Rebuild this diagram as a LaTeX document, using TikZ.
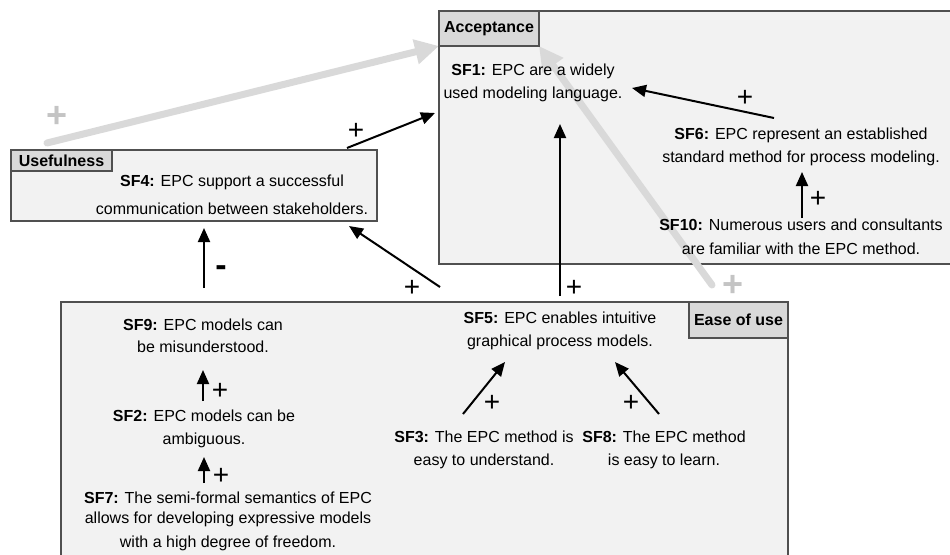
\documentclass[tikz,border=0pt]{standalone}
\usepackage{fontspec}
\setmainfont{Liberation Sans}
\usetikzlibrary{arrows.meta}
\pgfdeclarelayer{bg}
\pgfdeclarelayer{mid}
\pgfsetlayers{bg,mid,main}
\definecolor{boxfill}{HTML}{F2F2F2}
\definecolor{labfill}{HTML}{D9D9D9}
\definecolor{bordercol}{HTML}{505050}
\definecolor{greyarr}{HTML}{D9D9D9}
\definecolor{greyplus}{HTML}{C4C4C4}
\begin{document}
\begin{tikzpicture}[x=1pt,y=-1pt,
  area/.style={draw=bordercol, fill=boxfill, line width=1.2pt, anchor=north west, inner sep=0pt, outer sep=0pt},
  tag/.style={draw=bordercol, fill=labfill, line width=1.2pt, anchor=north west, inner sep=0pt, outer sep=0pt, font=\fontsize{16}{19}\selectfont\bfseries},
  txt/.style={align=center, inner sep=0pt, font=\fontsize{16}{22.5}\selectfont},
  arr/.style={line width=2pt, -{Triangle[length=14pt,width=12pt]}},
  garr/.style={line width=7pt, draw=greyarr, line cap=round, -{Triangle[length=24pt,width=24pt]}},
  plus/.style={inner sep=0pt, font=\fontsize{28}{28}\selectfont},
  minus/.style={inner sep=0pt, font=\fontsize{34}{34}\selectfont\bfseries},
  gplus/.style={inner sep=0pt, text=greyplus, font=\fontsize{36}{36}\selectfont\bfseries}]
\useasboundingbox (0,0) rectangle (950,554);
\begin{pgfonlayer}{bg}
\clip (0,0) rectangle (950,554);
\node[area, minimum width=530pt, minimum height=253pt] (acc) at (439,11) {};
\node[area, minimum width=366pt, minimum height=71pt] (use) at (11,150) {};
\node[area, minimum width=727pt, minimum height=270pt] (bot) at (61,302) {};
\end{pgfonlayer}
% labels
\node[tag, minimum width=100pt, minimum height=35pt] (acclab) at (439,11) {Acceptance};
\node[tag, minimum width=101pt, minimum height=21pt] (uselab) at (11,150) {Usefulness};
\node[tag, minimum width=99pt, minimum height=36pt] (easelab) at (689,302) {Ease of use};
% texts
\node[txt] (sf1) at (533,83) {\textbf{SF1:} EPC are a widely\\used modeling language.};
\node[txt] (sf6) at (801,147) {\textbf{SF6:} EPC represent an established\\standard method for process modeling.};
\node[txt] (sf10) at (801,237) {\textbf{SF10:} Numerous users and consultants\\[1.5pt]are familiar with the EPC method.};
\node[txt] (sf4) at (232,195) {\textbf{SF4:} EPC support a successful\\[5.5pt]communication between stakeholders.};
\node[txt] (sf9) at (203,336) {\textbf{SF9:} EPC models can\\be misunderstood.};
\node[txt] (sf2) at (204,429) {\textbf{SF2:} EPC models can be\\ambiguous.};
\node[txt] (sf7) at (228,521) {\textbf{SF7:} The semi-formal semantics of EPC\\[-2.5pt]allows for developing expressive models\\[1.5pt]with a high degree of freedom.};
\node[txt] (sf5) at (560,331) {\textbf{SF5:} EPC enables intuitive\\graphical process models.};
\node[txt] (sf3) at (484,450) {\textbf{SF3:} The EPC method is\\easy to understand.};
\node[txt] (sf8) at (664,450) {\textbf{SF8:} The EPC method\\is easy to learn.};
% grey arrows
\begin{pgfonlayer}{mid}
\draw[garr] ([shift={(36,-7)}]use.north west) -- (acclab.south west);
\draw[garr] ([shift={(23,-17)}]easelab.north west) -- (acclab.south east);
\end{pgfonlayer}
% black arrows
\draw[arr] ([shift={(-30,-2)}]use.north east) -- ([shift={(-4,102)}]acc.north west);
\draw[arr] ([shift={(-120,-44)}]sf5.center) -- ([shift={(-28,5)}]use.south east);
\draw[arr] ([shift={(1,-48)}]sf9.center) -- ([shift={(10,7)}]use.south);
\draw[arr] ([shift={(0,-35)}]sf5.center) -- ([shift={(27,41)}]sf1.center);
\draw[arr] ([shift={(-27,-29)}]sf6.center) -- ([shift={(99,5)}]sf1.center);
\draw[arr] ([shift={(1,-19)}]sf10.center) -- ([shift={(1,25)}]sf6.center);
\draw[arr] ([shift={(-1,-28)}]sf2.center) -- ([shift={(0,34)}]sf9.center);
\draw[arr] ([shift={(-24,-38)}]sf7.center) -- ([shift={(0,28)}]sf2.center);
\draw[arr] ([shift={(-21,-36)}]sf3.center) -- ([shift={(-55,31)}]sf5.center);
\draw[arr] ([shift={(-5,-36)}]sf8.center) -- ([shift={(55,31)}]sf5.center);
% signs
\node[gplus] (g1) at (57,117) {+};
\node[gplus] (g2) at (733,286) {+};
\node[plus] (p1) at (356,131) {+};
\node[plus] (p2) at (412,288) {+};
\node[plus] (p3) at (574,288) {+};
\node[plus] (p4) at (745,98) {+};
\node[plus] (p5) at (818,199) {+};
\node[plus] (p6) at (220,391) {+};
\node[plus] (p7) at (221,476) {+};
\node[plus] (p8) at (492,403) {+};
\node[plus] (p9) at (631,403) {+};
\node[minus] (m1) at (221,271) {-};
\end{tikzpicture}
\end{document}
